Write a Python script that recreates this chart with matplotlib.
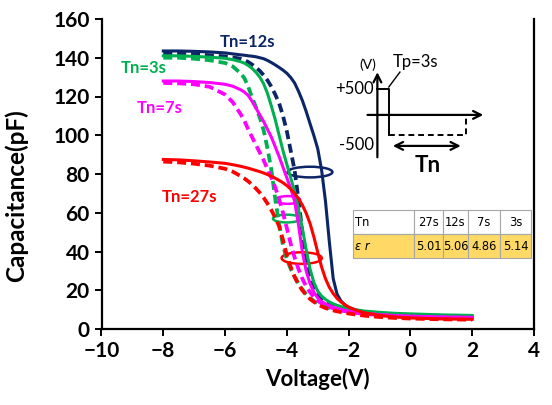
import matplotlib
matplotlib.use("Agg")
import matplotlib.pyplot as plt
from matplotlib.patches import Ellipse

voltage = [-8, -7.5, -7, -6.5, -6, -5.75, -5.5, -5.375, -5.25, -5.125, -5, -4.875, -4.75,
           -4.625, -4.5, -4.375, -4.25, -4.125, -4, -3.875, -3.75, -3.625, -3.5, -3.375,
           -3.25, -3.125, -3, -2.875, -2.75, -2.625, -2.5, -2.375, -2.25, -2.125, -2,
           -1.75, -1.5, -1, -0.5, 0, 1, 2]

tn12_solid = [143.5, 143.5, 143.3, 143, 142.5, 142, 141.5, 141.3, 141, 140.8, 140.5, 140, 139.5,
              138.6, 137.5, 136.3, 135, 133.6, 132, 129.8, 127, 122.8, 118, 112.3,
              106, 99.8, 93, 82, 66, 45, 26, 18, 14.5, 12.5, 11.2,
              9.7, 8.8, 7.9, 7.3, 6.9, 6.4, 6.1]
tn12_dash = [142, 142, 141.8, 141.3, 140.7, 140.2, 139.5, 138.8, 137.8, 136.5, 135, 133.2, 131,
             128.3, 125, 121, 116.5, 110, 102, 92, 82, 67, 50, 37,
             28, 21.5, 17.5, 15, 13.5, 12.3, 11.4, 10.7, 10.2, 9.7, 9.3,
             8.7, 8.2, 7.5, 7, 6.6, 6.2, 5.9]
tn3_solid = [141, 141, 140.7, 140.3, 139.7, 139, 138, 137.2, 136, 134.5, 132.5, 130, 126.5,
             121.5, 115, 108, 100, 92, 85, 78, 71, 62, 52, 41,
             31, 24, 19.5, 17, 15.3, 14, 13, 12.2, 11.6, 11, 10.6,
             9.9, 9.3, 8.6, 8.1, 7.8, 7.3, 7]
tn3_dash = [140, 140, 139.5, 138.7, 137.3, 135.5, 132, 129.5, 125, 119.5, 114.5, 109, 102.5,
            93, 82, 67, 54, 43, 36, 31, 27, 23.5, 20.5, 18,
            16, 14.5, 13.2, 12.2, 11.4, 10.8, 10.3, 9.9, 9.5, 9.2, 8.9,
            8.5, 8.1, 7.6, 7.3, 7.1, 6.8, 6.6]
tn7_solid = [128, 128, 127.7, 127.2, 126.3, 125.3, 123.5, 122.3, 120.5, 117.5, 114, 110.5, 107,
             103, 99, 94, 89, 83.5, 78, 72.5, 66, 54, 40, 30,
             23.5, 19, 16, 14.2, 13, 12.1, 11.3, 10.6, 10.1, 9.6, 9.2,
             8.6, 8.1, 7.4, 6.9, 6.6, 6.2, 6]
tn7_dash = [127, 126.8, 126.3, 125, 121, 117, 111, 107.5, 103, 99, 95, 91, 87,
            82.5, 78, 73, 67, 60, 52, 44, 37, 31, 26, 22,
            19, 16.5, 14.5, 13.2, 12.2, 11.4, 10.7, 10.1, 9.6, 9.2, 8.8,
            8.3, 7.8, 7.2, 6.7, 6.4, 6, 5.8]
tn27_solid = [87.5, 87.3, 86.8, 86.2, 85.5, 84.8, 84, 83.5, 83, 82.4, 81.8, 81.2, 80.5,
              79.7, 78.8, 77.8, 76.7, 75.5, 74, 72.2, 70, 67.3, 64, 59.8,
              54.5, 47.5, 39.5, 32, 26, 21.5, 18.3, 15.8, 14, 12.5, 11.3,
              9.6, 8.4, 7, 6.2, 5.7, 5.2, 5]
tn27_dash = [86.4, 86, 85.3, 84.3, 82.7, 81.2, 79, 77.7, 76.2, 74.5, 72.5, 70.3, 67.7,
             64.7, 61.3, 57.5, 53, 46, 38, 32, 27, 23, 20, 17.5,
             15.5, 14, 12.7, 11.7, 10.8, 10.2, 9.6, 9.1, 8.7, 8.3, 8,
             7.4, 6.9, 6.2, 5.7, 5.4, 5, 4.8]

table_cols = ["Tn", "27s", "12s", "7s", "3s"]
table_eps = ["ε r", "5.01", "5.06", "4.86", "5.14"]

NAVY = "#0B2566"
GREEN = "#00B050"
MAGENTA = "#FF00FF"
RED = "#FF0000"

FONT = "Lato"

fig = plt.figure(figsize=(5.52, 4.05), dpi=100)
ax = fig.add_axes([101.5 / 552, 1 - 329 / 405, 432.5 / 552, 310 / 405])

series = [
    (tn12_solid, tn12_dash, NAVY),
    (tn3_solid, tn3_dash, GREEN),
    (tn7_solid, tn7_dash, MAGENTA),
    (tn27_solid, tn27_dash, RED),
]
for solid, dash, col in series:
    ax.plot(voltage, solid, color=col, lw=2.2, solid_joinstyle="round")
    ax.plot(voltage, dash, color=col, lw=2.7, dashes=(2.4, 1.3))

# ellipses marking pairs
ells = [((-3.25, 81), 1.45, 5.5, NAVY), ((-3.97, 66.6), 0.8, 4.0, MAGENTA),
        ((-4.0, 57), 0.9, 4.0, GREEN), ((-3.52, 36.6), 1.3, 6.0, RED)]
for c, w, h, col in ells:
    ax.add_patch(Ellipse(c, w, h, fill=False, edgecolor=col, lw=1.8))

# series labels
ax.text(-6.18, 148, "Tn=12s", color=NAVY, fontsize=12, fontweight="bold", family=FONT, va="center")
ax.text(-9.38, 134.7, "Tn=3s", color=GREEN, fontsize=12, fontweight="bold", family=FONT, va="center")
ax.text(-8.87, 114, "Tn=7s", color=MAGENTA, fontsize=12, fontweight="bold", family=FONT, va="center")
ax.text(-8.06, 68, "Tn=27s", color=RED, fontsize=12, fontweight="bold", family=FONT, va="center")

# pulse inset
k = "black"
ax.annotate("", xy=(-1.07, 134), xytext=(-1.07, 87.2),
            arrowprops=dict(arrowstyle="->", lw=1.6, color=k, mutation_scale=14))
ax.annotate("", xy=(2.45, 110.5), xytext=(-1.48, 110.5),
            arrowprops=dict(arrowstyle="->", lw=1.6, color=k, mutation_scale=14))
ax.plot([-1.07, -0.70, -0.70], [123.9, 123.9, 100.1], color=k, lw=1.4)
ax.plot([-0.70, 1.80, 1.80], [100.1, 100.1, 109], color=k, lw=1.4, dashes=(3, 2))
ax.plot([-0.70, -0.34], [124.9, 132.6], color=k, lw=1.0)
ax.annotate("", xy=(1.72, 94.5), xytext=(-0.66, 94.5),
            arrowprops=dict(arrowstyle="<->", lw=1.6, color=k, mutation_scale=14))
ax.text(-1.38, 136.5, "(V)", fontsize=10, family=FONT, ha="center", va="center")
ax.text(-0.57, 138, "Tp=3s", fontsize=12, family=FONT, ha="left", va="center")
ax.text(-1.18, 123.9, "+500", fontsize=12, family=FONT, ha="right", va="center")
ax.text(-1.18, 95, "-500", fontsize=12, family=FONT, ha="right", va="center")
ax.text(0.56, 84.5, "Tn", fontsize=16, fontweight="bold", family=FONT, ha="center", va="center")

# table
tbl = ax.table(cellText=[table_cols, table_eps],
               cellColours=[["white"] * 5, ["#FFD966"] * 5],
               colWidths=[61, 29, 25, 32, 31],
               bbox=[(353 - 101.5) / 432.5, (329 - 258) / 310, 178 / 432.5, 48 / 310],
               cellLoc="center")
tbl.auto_set_font_size(False)
for (r, c), cell in tbl.get_celld().items():
    cell.set_edgecolor("#A6A6A6")
    cell.set_linewidth(0.8)
    t = cell.get_text()
    t.set_fontsize(8.3)
    t.set_family("DejaVu Sans")
    cell.PAD = 0.03
    if c == 0:
        t.set_ha("left")
        cell._loc = "left"
    if r == 1 and c == 0:
        t.set_fontstyle("italic")

ax.set_xlim(-10, 4)
ax.set_ylim(0, 160)
ax.set_xticks(range(-10, 5, 2))
ax.set_yticks(range(0, 161, 20))
ax.spines["top"].set_visible(False)
for s in ["left", "bottom", "right"]:
    ax.spines[s].set_linewidth(1.6)
ax.tick_params(direction="out", length=5, width=1.4, labelsize=15, right=False)
for lab in ax.get_xticklabels() + ax.get_yticklabels():
    lab.set_fontweight("bold")
    lab.set_family(FONT)
ax.set_xlabel("Voltage(V)", fontsize=16, fontweight="bold", family=FONT, labelpad=5)
ax.set_ylabel("Capacitance(pF)", fontsize=17.5, fontweight="bold", family=FONT)
ax.yaxis.set_label_coords(-0.17, 0.43)

fig.savefig("out.png", dpi=100)
